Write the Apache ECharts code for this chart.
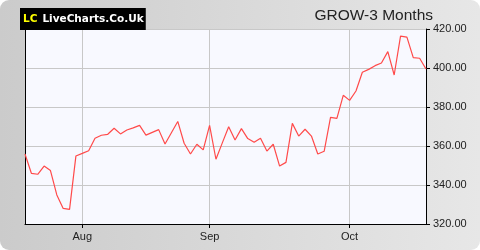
<!DOCTYPE html>
<html>
<head>
<meta charset="utf-8">
<script src="https://cdn.jsdelivr.net/npm/echarts@6/dist/echarts.min.js"></script>
<style>
html,body{margin:0;padding:0;background:#fff;}
#c{width:480px;height:250px;border-radius:9px;overflow:hidden;background:linear-gradient(to right,#cbcbcb,#e7e7e7);}
</style>
</head>
<body>
<div id="c"></div>
<script>
var dates = [
"2020-07-21","2020-07-22","2020-07-23","2020-07-24","2020-07-27","2020-07-28","2020-07-29","2020-07-30","2020-07-31",
"2020-08-03","2020-08-04","2020-08-05","2020-08-06","2020-08-07","2020-08-10","2020-08-11","2020-08-12","2020-08-13","2020-08-14",
"2020-08-17","2020-08-18","2020-08-19","2020-08-20","2020-08-21","2020-08-24","2020-08-25","2020-08-26","2020-08-27","2020-08-28",
"2020-09-01","2020-09-02","2020-09-03","2020-09-04","2020-09-07","2020-09-08","2020-09-09","2020-09-10","2020-09-11",
"2020-09-14","2020-09-15","2020-09-16","2020-09-17","2020-09-18","2020-09-21","2020-09-22","2020-09-23","2020-09-24","2020-09-25",
"2020-09-28","2020-09-29","2020-09-30",
"2020-10-01","2020-10-02","2020-10-05","2020-10-06","2020-10-07","2020-10-08","2020-10-09","2020-10-12","2020-10-13","2020-10-14",
"2020-10-15","2020-10-16","2020-10-19"
];
var prices = [
355.9,346.0,345.5,349.7,347.4,334.9,328.0,327.5,354.9,
356.2,357.6,364.0,365.5,366.0,369.1,366.2,368.2,369.3,370.6,
365.6,367.0,368.4,361.0,366.8,372.6,361.4,355.9,360.9,358.0,
370.6,353.2,361.6,369.9,363.1,368.9,363.8,361.9,364.0,
357.4,360.9,349.7,351.6,371.6,365.1,368.6,365.1,355.9,357.3,
374.7,374.2,386.0,
383.4,388.2,397.8,399.3,401.2,402.6,408.4,396.4,416.3,415.8,
405.3,405.0,399.5
];
var yTicks = [320, 340, 360, 380, 400, 420];
var monthNames = ["Jan","Feb","Mar","Apr","May","Jun","Jul","Aug","Sep","Oct","Nov","Dec"];

function isMonthStart(i){
  return i > 0 && dates[i].slice(5,7) !== dates[i-1].slice(5,7);
}
var chart = echarts.init(document.getElementById('c'), null, {renderer:'canvas'});
chart.setOption({
  backgroundColor: 'transparent',
  animation: false,
  title: [{
    text: '{a|LC} {b|LiveCharts.Co.Uk}',
    left: 20, top: 8,
    backgroundColor: '#000',
    padding: [2, 2, 2, 3],
    textStyle: {
      rich: {
        a: {color: '#ffff00', fontFamily: 'DejaVu Sans', fontWeight: 'bold', fontSize: 10.5, lineHeight: 13},
        b: {color: '#ffffff', fontFamily: 'DejaVu Sans', fontWeight: 'bold', fontSize: 10.5, lineHeight: 13}
      }
    }
  },{
    text: 'GROW-3 Months',
    right: 47, top: 8,
    padding: 0,
    textStyle: {color: '#222', fontFamily: 'Liberation Sans', fontWeight: 'normal', fontSize: 15.5}
  }],
  grid: {
    left: 25, right: 54, top: 29, bottom: 26,
    show: true, backgroundColor: '#f8f9ff', borderWidth: 0
  },
  xAxis: {
    type: 'category',
    data: dates,
    boundaryGap: false,
    axisLine: {show: true, lineStyle: {color: '#000', width: 1}},
    axisTick: {show: true, length: 4, interval: function(i){return isMonthStart(i);}, lineStyle: {color: '#000'}},
    axisLabel: {
      interval: function(i){return isMonthStart(i);},
      formatter: function(v){return monthNames[parseInt(v.slice(5,7),10)-1];},
      color: '#222', fontFamily: 'Liberation Sans', fontSize: 11, margin: 7
    },
    splitLine: {show: true, interval: function(i){return isMonthStart(i);}, lineStyle: {color: '#c8c8c8', width: 1}}
  },
  yAxis: [{
    type: 'value',
    position: 'right',
    min: yTicks[0], max: yTicks[yTicks.length-1], interval: 20,
    axisLine: {show: true, lineStyle: {color: '#000', width: 1}},
    axisTick: {show: true, length: 4, lineStyle: {color: '#000'}},
    axisLabel: {formatter: function(v){return v.toFixed(2);}, color: '#222', fontFamily: 'Liberation Sans', fontSize: 11, margin: 7},
    splitLine: {show: true, lineStyle: {color: '#c8c8c8', width: 1}}
  },{
    type: 'value',
    position: 'left',
    min: yTicks[0], max: yTicks[yTicks.length-1], interval: 20,
    axisLine: {show: true, lineStyle: {color: '#000', width: 1}},
    axisTick: {show: false},
    axisLabel: {show: false},
    splitLine: {show: false}
  }],
  series: [{
    type: 'line',
    data: prices,
    yAxisIndex: 0,
    showSymbol: false,
    lineStyle: {color: '#ff4a4a', width: 1.2},
    itemStyle: {color: '#ff4a4a'}
  }]
});
</script>
</body>
</html>
